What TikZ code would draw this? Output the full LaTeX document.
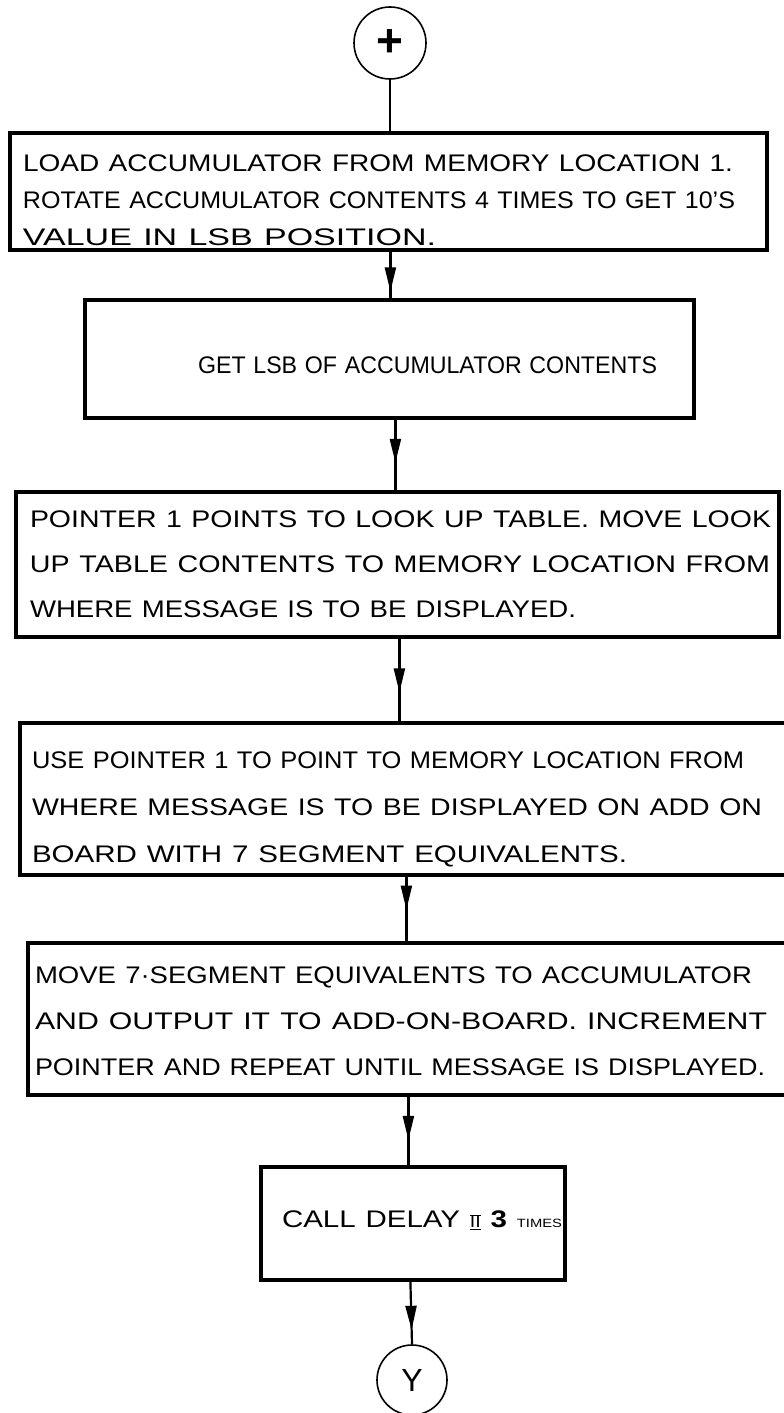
\documentclass[tikz,border=0pt]{standalone}
\usepackage{fontspec}
\usepackage{graphicx}
\setmainfont{Liberation Sans}
\usetikzlibrary{arrows.meta,decorations.markings}

% one line of box text: left offset, printed width, text
\newcommand{\txtline}[3]{\hspace*{#1pt}\resizebox{#2pt}{\height}{#3}}

\tikzset{
  stepbox/.style={draw, rectangle, line width=3.2pt, inner xsep=0pt, inner ysep=0pt, align=left},
  endpoint/.style={draw, circle, line width=1.6pt, inner sep=0pt},
  link/.style={line width=2.2pt},
  flow/.style={line width=2.2pt, postaction={decorate},
    decoration={markings, mark=at position #1 with {\arrow{Triangle[length=24pt,width=11pt]}}}}
}

\begin{document}
\begin{tikzpicture}[x=1pt,y=-1pt]
\useasboundingbox (0,0) rectangle (784,1413);

% entry connector
\node[endpoint, minimum size=72pt, font=\fontsize{46}{46}\selectfont\bfseries] (plus) at (390,43) {+};

% process boxes
\node[stepbox, minimum width=757pt, minimum height=117pt, text width=757pt,
      font=\fontsize{24}{37}\selectfont] (b1) at (388.5,191.5)
  {\rule{0pt}{34.2pt}\txtline{13}{710}{LOAD ACCUMULATOR FROM MEMORY LOCATION 1.}\\
   \txtline{13}{712}{ROTATE ACCUMULATOR CONTENTS 4 TIMES TO GET 10'S}\\
   \txtline{13}{413}{VALUE IN LSB POSITION.}};

\node[stepbox, minimum width=609pt, minimum height=118pt, text width=609pt,
      font=\fontsize{24}{37}\selectfont] (b2) at (389.5,359)
  {\rule{0pt}{29.2pt}\txtline{113}{459}{GET LSB OF ACCUMULATOR CONTENTS}};

\node[stepbox, minimum width=763pt, minimum height=145pt, text width=763pt,
      font=\fontsize{24}{45}\selectfont] (b3) at (397.5,564.5)
  {\txtline{14}{741}{POINTER 1 POINTS TO LOOK UP TABLE. MOVE LOOK}\\
   \txtline{14}{740}{UP TABLE CONTENTS TO MEMORY LOCATION FROM}\\
   \txtline{14}{546}{WHERE MESSAGE IS TO BE DISPLAYED.}};

\node[stepbox, minimum width=780pt, minimum height=152pt, text width=780pt,
      font=\fontsize{24}{47}\selectfont] (b4) at (410,799)
  {\rule{0pt}{37.2pt}\txtline{12}{712}{USE POINTER 1 TO POINT TO MEMORY LOCATION FROM}\\
   \txtline{12}{730}{WHERE MESSAGE IS TO BE DISPLAYED ON ADD ON}\\
   \txtline{12}{595}{BOARD WITH 7 SEGMENT EQUIVALENTS.}};

\node[stepbox, minimum width=772pt, minimum height=152pt, text width=772pt,
      font=\fontsize{24}{46}\selectfont] (b5) at (414,1019)
  {\rule{0pt}{21.2pt}\txtline{7}{717}{MOVE 7·SEGMENT EQUIVALENTS TO ACCUMULATOR}\\
   \txtline{7}{732}{AND OUTPUT IT TO ADD-ON-BOARD. INCREMENT}\\
   \txtline{7}{730}{POINTER AND REPEAT UNTIL MESSAGE IS DISPLAYED.}};

\node[stepbox, minimum width=304pt, minimum height=113pt, text width=304pt,
      font=\fontsize{24}{30}\selectfont] (b6) at (413,1223.5)
  {\rule[-9pt]{0pt}{17.2pt}\txtline{21}{280}{CALL DELAY
     $\overline{\underline{\mbox{\fontsize{16}{16}\selectfont II}}}$
     {\bfseries 3} {\fontsize{12}{12}\selectfont TIMES}}};

% exit connector
\node[endpoint, minimum size=70pt, font=\fontsize{32}{32}\selectfont] (exit) at (412,1380) {Y};

% connectors
\draw[link] (plus.south) -- (plus.south |- b1.north);
\draw[flow=0.85] ([xshift=382pt]b1.south west) -- ([xshift=307pt]b2.north west);
\draw[flow=0.61] ([xshift=312pt]b2.south west) -- ([xshift=381pt]b3.north west);
\draw[flow=0.65] ([xshift=385pt]b3.south west) -- ([xshift=381pt]b4.north west);
\draw[flow=0.51] ([xshift=388pt]b4.south west) -- ([xshift=380pt]b5.north west);
\draw[flow=0.63] ([xshift=382pt]b5.south west) -- ([xshift=149pt]b6.north west);
\draw[flow=0.77] ([xshift=151pt]b6.south west) -- (exit.north);
\end{tikzpicture}
\end{document}
